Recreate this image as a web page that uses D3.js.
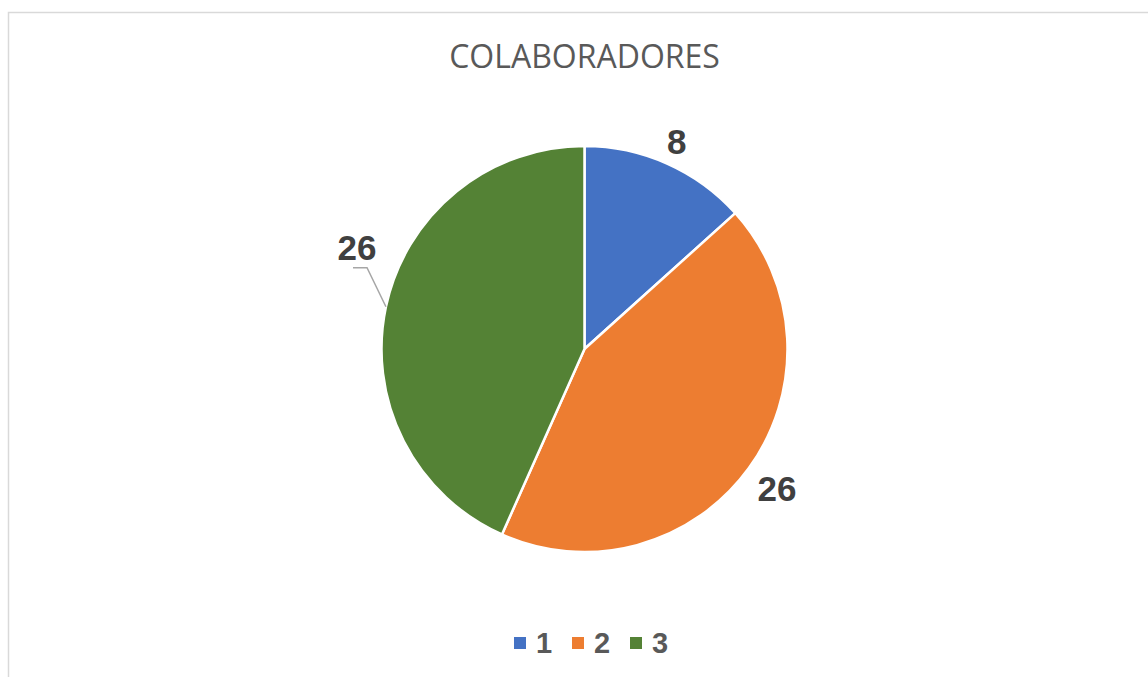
<!DOCTYPE html>
<html>
<head>
<meta charset="utf-8">
<script src="https://cdn.jsdelivr.net/npm/d3@7"></script>
<style>
  html, body { margin: 0; padding: 0; background: #fff; }
  svg { display: block; }
</style>
</head>
<body>
<div id="chart"></div>
<script>
// data
var categories = ["1", "2", "3"];
var values = [8, 26, 26];
var colors = ["#4472c4", "#ed7d31", "#548235"];
var title = "COLABORADORES";

var width = 1148, height = 677;
var cx = 584.5, cy = 349, radius = 203;

var svg = d3.select("#chart").append("svg")
    .attr("width", width)
    .attr("height", height);

// chart frame (runs off the right/bottom of the picture)
svg.append("rect")
    .attr("x", 8.5).attr("y", 12.5)
    .attr("width", 1300).attr("height", 800)
    .attr("fill", "#fff")
    .attr("stroke", "#d9d9d9")
    .attr("stroke-width", 1.5);

svg.append("text")
    .attr("x", cx).attr("y", 68)
    .attr("text-anchor", "middle")
    .style("font-family", "'Open Sans', sans-serif")
    .style("font-size", "32px")
    .style("fill", "#595959")
    .text(title);

var data = categories.map(function(c, i) { return { cat: c, value: values[i], color: colors[i] }; });

var pie = d3.pie().value(function(d) { return d.value; }).sort(null);
var arc = d3.arc().innerRadius(0).outerRadius(radius);
var arcs = pie(data);

var g = svg.append("g").attr("transform", "translate(" + cx + "," + cy + ")");

g.selectAll("path.slice")
    .data(arcs)
    .enter().append("path")
    .attr("class", "slice")
    .attr("d", arc)
    .attr("fill", function(d) { return d.data.color; })
    .attr("stroke", "#fff")
    .attr("stroke-width", 2.5)
    .attr("stroke-linejoin", "round");

// label placement: outside end, the last one pushed up with a leader line
var labelR = [227, 238, 249];
var labelShift = [0, 0, 12 * Math.PI / 180];

function polar(a, r) { return [Math.sin(a) * r, -Math.cos(a) * r]; }

arcs.forEach(function(d, i) {
    var mid = (d.startAngle + d.endAngle) / 2;
    var p = polar(mid + labelShift[i], labelR[i]);
    if (labelShift[i] !== 0) {
        var edge = polar(mid, radius);
        var elbow = [p[0] + 10, p[1] + 20];
        g.append("polyline")
            .attr("points", [edge, elbow, [p[0] - 4, elbow[1]]].map(function(q) { return q.join(","); }).join(" "))
            .attr("fill", "none")
            .attr("stroke", "#a6a6a6")
            .attr("stroke-width", 1.5);
    }
    g.append("text")
        .attr("x", p[0]).attr("y", p[1])
        .attr("dy", "0.36em")
        .attr("text-anchor", "middle")
        .style("font-family", "'Liberation Sans', Arial, sans-serif")
        .style("font-weight", "bold")
        .style("font-size", "35px")
        .style("fill", "#404040")
        .text(d.data.value);
});

// legend
var legendX = d3.scalePoint().domain(categories).range([514, 630]);
var legend = svg.selectAll("g.legend")
    .data(data)
    .enter().append("g")
    .attr("class", "legend")
    .attr("transform", function(d) { return "translate(" + legendX(d.cat) + ",637)"; });

legend.append("rect")
    .attr("width", 12).attr("height", 12)
    .attr("fill", function(d) { return d.color; });

legend.append("text")
    .attr("x", 22).attr("y", 16)
    .style("font-family", "'Liberation Sans', Arial, sans-serif")
    .style("font-weight", "bold")
    .style("font-size", "29px")
    .style("fill", "#595959")
    .text(function(d) { return d.cat; });
</script>
</body>
</html>
